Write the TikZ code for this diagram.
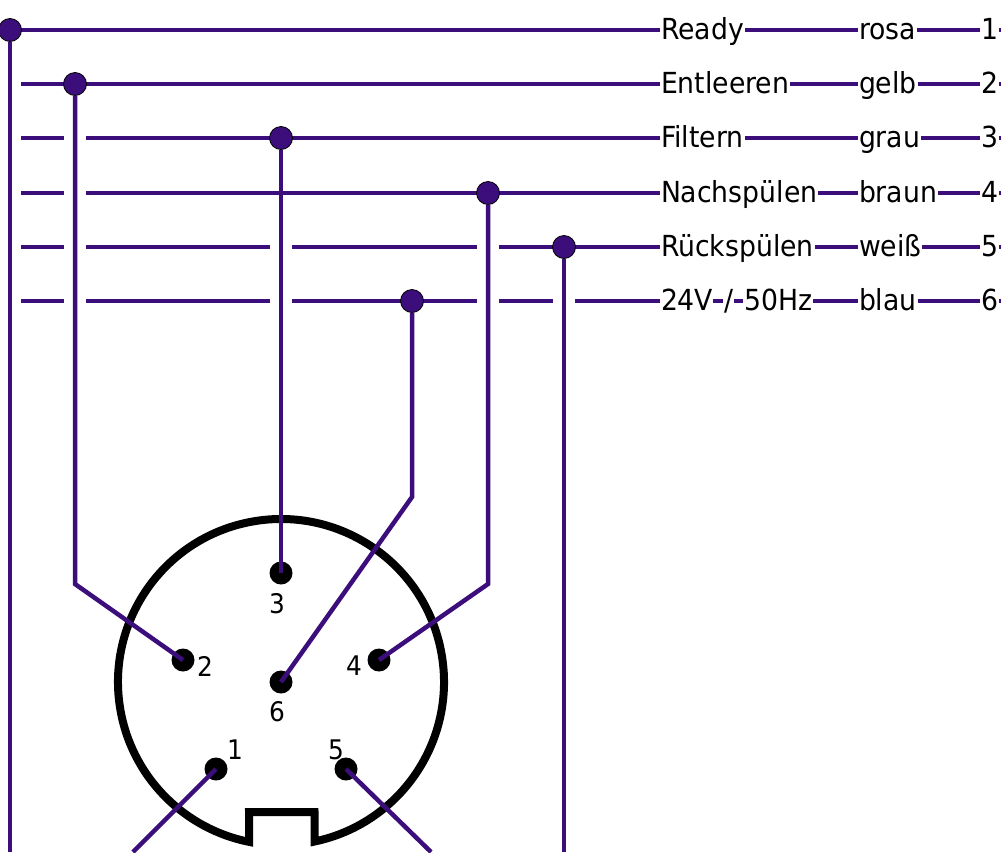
\documentclass[tikz,border=0pt]{standalone}
\usepackage{fontspec}
\setmainfont[FakeStretch=0.92]{DejaVu Sans}
\definecolor{wirecol}{HTML}{3C0E7C}

\begin{document}
\begin{tikzpicture}[x=1pt,y=1pt,every edge/.append style={draw=wirecol,line width=4.5pt},
  rowtext/.style={anchor=west,inner sep=1pt,outer sep=0pt,text height=24pt,text depth=6pt,font=\fontsize{29}{32}\selectfont},
  pinnum/.style={inner sep=0pt,font=\fontsize{27}{30}\selectfont},
  pin/.style={circle,fill=black,minimum size=23pt,inner sep=0pt,outer sep=0pt},
  junction/.style={circle,draw=black,line width=0.8pt,fill=wirecol,minimum size=23pt,inner sep=0pt,outer sep=0pt},
  hop/.style={fill=white,minimum width=22pt,minimum height=8pt,inner sep=0pt},
  wire/.style={draw=wirecol,line width=4.5pt}]

\useasboundingbox (0,0) rectangle (1003,-852);

% Text columns and the wires in each row.
\foreach \r/\y/\xs/\sig/\col in {1/-30/10/Ready/rosa,2/-84/21/Entleeren/gelb,3/-138/21/Filtern/grau,
    4/-193/21/Nachsp\"ulen/braun,5/-247/21/R\"ucksp\"ulen/wei\ss,6/-301/21/{\spaceskip=11pt 24V / 50Hz}/blau} {
  \coordinate (start\r) at (\xs,\y);
  \coordinate (stub\r) at (1001,\y);
  \node[rowtext] (sig\r) at (660,\y) {\sig};
  \node[rowtext] (col\r) at (858,\y) {\col};
  \node[rowtext] (num\r) at (980,\y) {\r};
  \path (start\r) edge (sig\r.west)
  (sig\r.east) edge (col\r.west)
  (col\r.east) edge (num\r.west)
  (num\r.east) edge (stub\r);
}

% Dashes in the spaces of the last signal name.
\coordinate (dasha) at (713,-301);
\coordinate (dashb) at (723,-301);
\coordinate (dashc) at (734,-301);
\coordinate (dashd) at (743,-301);
\path (dasha) edge (dashb) (dashc) edge (dashd);

% Breaks in the rows where a wire passes.
\foreach \x/\r in {75/3,75/4,75/5,75/6,281/5,281/6,488/5,488/6,564/6}
  \node[hop] (hop\x\r) at (\x,0 |- start\r) {};

% Plug body.
\coordinate (shell) at (281,-682);
\coordinate (notcha) at (249,-812);
\coordinate (notchb) at (314.5,-812);
\draw[line width=8pt] (shell) ++(-78.1:163) arc[start angle=-78.1,end angle=258.7,radius=163]
  -- (notcha) -- (notchb) -- cycle;

% Pins.
\node[pin] (pin1) at (216,-769) {};
\node[pin] (pin2) at (183,-660) {};
\node[pin] (pin3) at (281,-573) {};
\node[pin] (pin4) at (379,-660) {};
\node[pin] (pin5) at (346,-769) {};
\node[pin] (pin6) at (281,-682) {};
\node[pinnum] (lab1) at (235,-750) {1};
\node[pinnum] (lab2) at (205,-666) {2};
\node[pinnum] (lab3) at (277,-604) {3};
\node[pinnum] (lab4) at (354,-666) {4};
\node[pinnum] (lab5) at (336,-750) {5};
\node[pinnum] (lab6) at (277,-712) {6};

% Junctions on the rows.
\node[junction] (j1) at (10,-30) {};
\node[junction] (j2) at (75,-84) {};
\node[junction] (j3) at (281,-138) {};
\node[junction] (j4) at (488,-193) {};
\node[junction] (j5) at (564,-247) {};
\node[junction] (j6) at (412,-301) {};

% Bends and free ends.
\coordinate (foot1) at (10,-852);
\coordinate (foot5) at (564,-852);
\coordinate (bend2) at (75,-584);
\coordinate (bend4) at (488,-584);
\coordinate (bend6) at (412,-497);
\coordinate (off1) at (133,-852);
\coordinate (off5) at (431,-852);

% Wires down to the plug.
\path (j1) edge (foot1)
(j5) edge (foot5)
(j3) edge (pin3.center);
\draw[wire] (j2) -- (bend2) -- (pin2.center);
\draw[wire] (j4) -- (bend4) -- (pin4.center);
\draw[wire] (j6) -- (bend6) -- (pin6.center);
\path (pin1.center) edge (off1)
(pin5.center) edge (off5);
\end{tikzpicture}
\end{document}
